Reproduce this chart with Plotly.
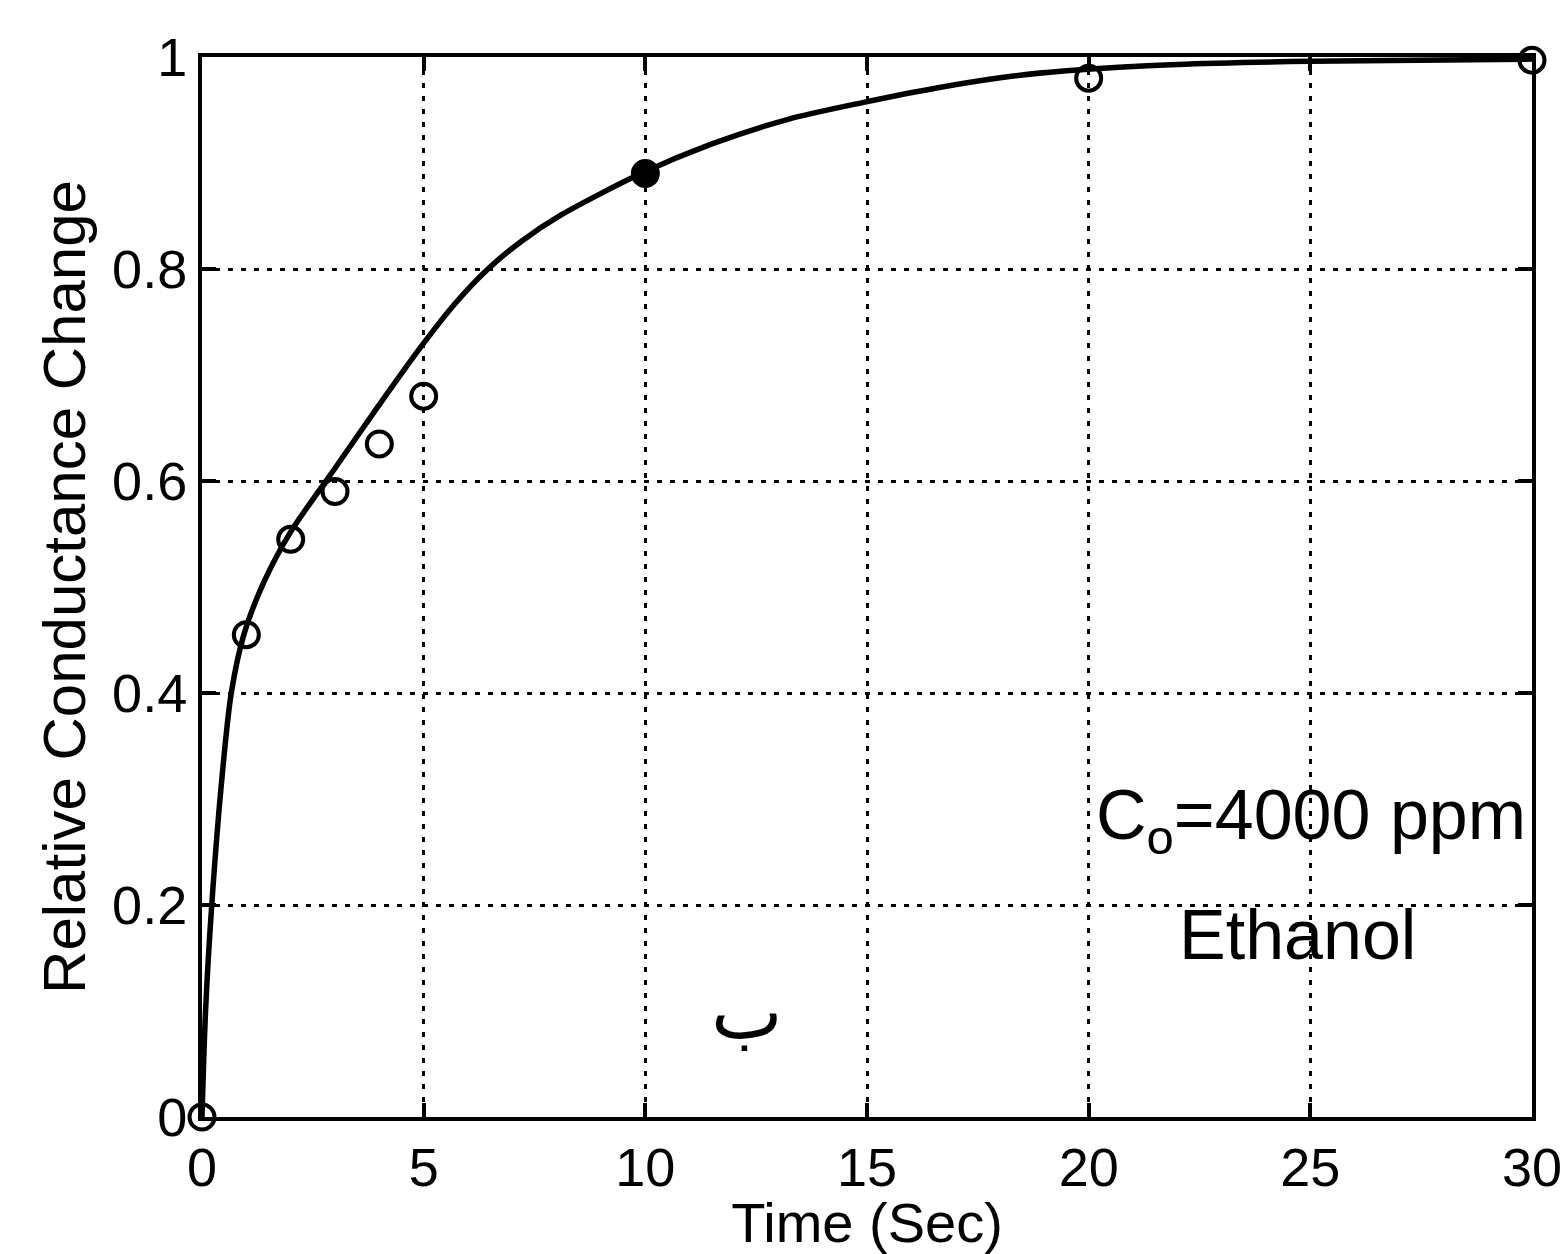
import plotly.graph_objects as go

# Measured data points (Time in s, relative conductance change)
time_pts = [0, 1, 2, 3, 4, 5, 10, 20, 30]
resp_pts = [0, 0.455, 0.545, 0.59, 0.635, 0.68, 0.89, 0.98, 0.997]

# Fitted curve
curve_t = [0, 0.08, 0.22, 0.45, 0.66, 0.95, 1.4, 2.0, 3.0, 4.0, 5.0, 5.7, 6.45, 7.2, 8.1, 9.9,
           11.5, 13.2, 14.9, 16.6, 18.3, 19.5, 22, 25, 30]
curve_y = [0, 0.10, 0.20, 0.32, 0.40, 0.456, 0.505, 0.552, 0.612, 0.672, 0.730, 0.767, 0.800, 0.826, 0.851, 0.89,
           0.918, 0.941, 0.957, 0.971, 0.982, 0.987, 0.993, 0.996, 0.998]

x_ticks = [0, 5, 10, 15, 20, 25, 30]
x_tick_text = ["0", "5", "10", "15", "20", "25", "30"]
y_ticks = [0, 0.2, 0.4, 0.6, 0.8, 1]
y_tick_text = ["0", "0.2", "0.4", "0.6", "0.8", "1"]

FONT = "Liberation Sans, Arial, sans-serif"

fig = go.Figure()
fig.add_trace(go.Scatter(
    x=curve_t, y=curve_y, mode="lines",
    line=dict(color="black", width=5.5, shape="spline", smoothing=0.8),
    showlegend=False, hoverinfo="skip"))
symbols = ["circle" if t == 10 else "circle-open" for t in time_pts]
fig.add_trace(go.Scatter(
    x=time_pts, y=resp_pts, mode="markers",
    marker=dict(symbol=symbols, size=25, color="black", line=dict(color="black", width=4)),
    showlegend=False, cliponaxis=False))

axis_common = dict(
    showline=True, linecolor="black", linewidth=4, mirror="ticks",
    ticks="inside", ticklen=14, tickwidth=3.5, tickcolor="black",
    showgrid=True, gridcolor="black", gridwidth=2.5, griddash="5px,8px",
    zeroline=False,
    tickfont=dict(family=FONT, size=54, color="black"),
    ticklabeloverflow="allow",
)

fig.update_xaxes(range=[0, 30], tickvals=x_ticks, ticktext=x_tick_text,
                 title=dict(text="Time (Sec)", font=dict(family=FONT, size=56, color="black"), standoff=0),
                 **axis_common)
fig.update_yaxes(range=[0, 1], tickvals=y_ticks, ticktext=y_tick_text,
                 title=dict(text="Relative Conductance Change", font=dict(family=FONT, size=60, color="black"), standoff=8),
                 **axis_common)

fig.add_annotation(x=29.9, y=0.28, xref="x", yref="y", xanchor="right", yanchor="middle",
                   text="C<sub>o</sub>=4000 ppm", showarrow=False,
                   font=dict(family=FONT, size=70, color="black"))
fig.add_annotation(x=24.7, y=0.172, xref="x", yref="y", xanchor="center", yanchor="middle",
                   text="Ethanol", showarrow=False,
                   font=dict(family=FONT, size=70, color="black"))
fig.add_annotation(x=12.3, y=0.10, xref="x", yref="y", xanchor="center", yanchor="middle",
                   text="ب", showarrow=False,
                   font=dict(family="DejaVu Sans, Noto Sans, sans-serif", size=76, color="black"))

fig.update_layout(
    width=1566, height=1254,
    margin=dict(l=202, r=34, t=57, b=137, autoexpand=False),
    paper_bgcolor="white", plot_bgcolor="white",
    font=dict(family=FONT, color="black"),
)

fig.write_html("out.html")
